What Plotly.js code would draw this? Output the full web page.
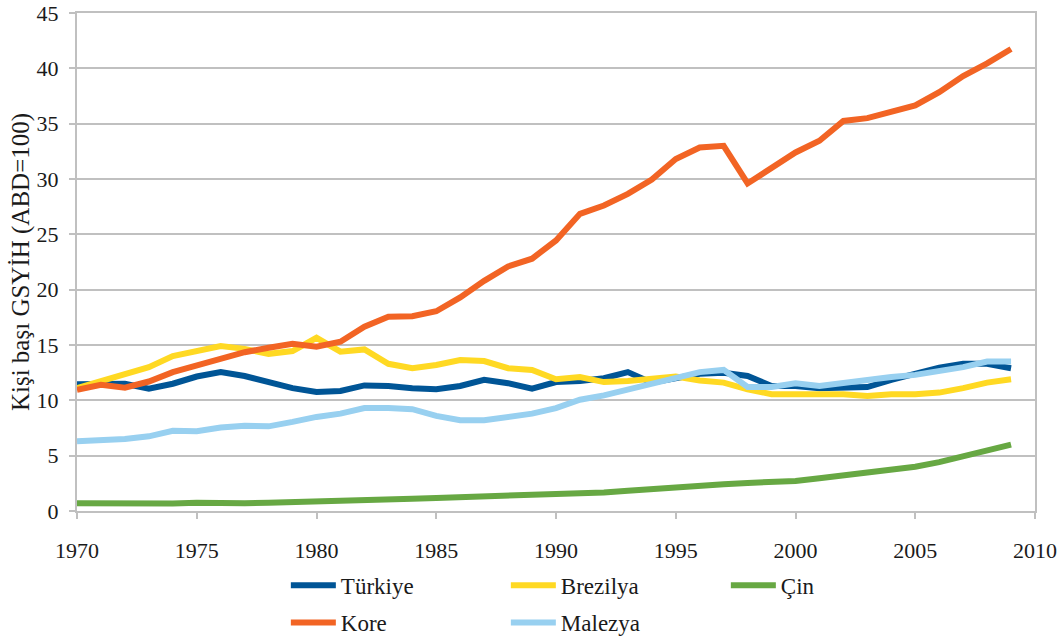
<!DOCTYPE html>
<html>
<head>
<meta charset="utf-8">
<script src="https://cdn.plot.ly/plotly-3.0.1.min.js"></script>
<style>html,body{margin:0;padding:0;background:#fff;}#chart{width:1063px;height:641px;}</style>
</head>
<body>
<div id="chart"></div>
<script>
const years = [1970,1971,1972,1973,1974,1975,1976,1977,1978,1979,1980,1981,1982,1983,1984,1985,1986,1987,1988,1989,1990,1991,1992,1993,1994,1995,1996,1997,1998,1999,2000,2001,2002,2003,2004,2005,2006,2007,2008,2009];

const turkiye = [11.45,11.5,11.5,11.05,11.5,12.15,12.55,12.2,11.6,11.1,10.75,10.85,11.35,11.3,11.1,11.0,11.3,11.85,11.55,11.05,11.65,11.75,12.0,12.55,11.6,12.05,12.4,12.5,12.2,11.3,11.3,11.1,11.1,11.2,11.85,12.45,12.95,13.3,13.3,12.9];
const brezilya = [11.1,11.7,12.3,13.0,14.0,14.5,14.9,14.65,14.2,14.45,15.65,14.4,14.6,13.3,12.9,13.2,13.65,13.55,12.9,12.75,11.9,12.1,11.65,11.75,11.9,12.15,11.8,11.6,11.0,10.55,10.55,10.55,10.55,10.4,10.55,10.55,10.7,11.1,11.6,11.9];
const cin = [0.7,0.68,0.66,0.66,0.68,0.74,0.68,0.7,0.74,0.78,0.84,0.88,0.96,1.03,1.1,1.18,1.25,1.32,1.37,1.37,1.4,1.52,1.67,1.83,2.0,2.17,2.3,2.42,2.53,2.6,2.72,2.95,3.2,3.45,3.7,4.0,4.42,4.98,5.48,6.0];
const kore = [10.95,11.4,11.15,11.7,12.55,13.15,13.75,14.35,14.75,15.1,14.85,15.3,16.65,17.55,17.6,18.05,19.3,20.8,22.1,22.8,24.45,26.85,27.6,28.65,29.95,31.8,32.85,33.0,29.6,31.05,32.4,33.45,35.25,35.5,36.05,36.65,37.85,39.3,40.45,41.75];
const malezya = [6.3,6.35,6.5,6.75,7.25,7.2,7.55,7.7,7.65,8.05,8.5,8.8,9.3,9.3,9.2,8.6,8.2,8.2,8.5,8.8,9.3,10.05,10.45,11.0,11.45,12.0,12.55,12.75,11.2,11.2,11.55,11.3,11.6,11.9,12.1,12.3,12.6,13.0,13.5,13.5];

const seriesNames = ["Türkiye","Brezilya","Çin","Kore","Malezya"];
const seriesColors = ["#005596","#ffd923","#67a843","#f26424","#98d0f0"];
const seriesData = [turkiye, brezilya, cin, kore, malezya];
const legendIds = ["legend","legend","legend","legend2","legend2"];

const yTicks = [0,5,10,15,20,25,30,35,40,45];
const xTicks = [1970,1975,1980,1985,1990,1995,2000,2005,2010];
const yTitle = "Kişi başı GSYİH (ABD=100)";

const textColor = "#1a1a1a";
const gridColor = "#c0c0c0";
const fontFamily = "'Liberation Serif', 'DejaVu Serif', serif";

const traces = seriesData.map((d, i) => ({
  type: "scatter",
  mode: "lines",
  x: years,
  y: d,
  name: seriesNames[i],
  legend: legendIds[i],
  line: {color: seriesColors[i], width: 6},
  hoverinfo: "skip"
}));

const legendBase = {
  orientation: "h",
  xanchor: "left",
  yanchor: "middle",
  entrywidth: 160,
  entrywidthmode: "pixels",
  itemwidth: 45,
  font: {family: fontFamily, size: 23, color: textColor},
  bgcolor: "rgba(0,0,0,0)",
  traceorder: "normal"
};

const layout = {
  width: 1063,
  height: 641,
  margin: {l: 77, r: 28, t: 13, b: 130, autoexpand: false},
  paper_bgcolor: "#ffffff",
  plot_bgcolor: "#ffffff",
  font: {family: fontFamily, size: 22, color: textColor},
  showlegend: true,
  legend: Object.assign({}, legendBase, {x: 0.218, y: -0.149}),
  legend2: Object.assign({}, legendBase, {x: 0.218, y: -0.224}),
  xaxis: {
    range: [1970, 2010],
    tickmode: "array",
    tickvals: xTicks,
    ticktext: xTicks.map(String),
    ticks: "outside",
    ticklen: 6,
    tickwidth: 2,
    tickcolor: gridColor,
    ticklabelstandoff: 13,
    ticklabeloverflow: "allow",
    showgrid: false,
    showline: true,
    mirror: true,
    linecolor: gridColor,
    linewidth: 2,
    zeroline: false,
    automargin: false,
    tickfont: {family: fontFamily, size: 22, color: textColor}
  },
  yaxis: {
    range: [0, 45],
    tickmode: "array",
    tickvals: yTicks,
    ticktext: yTicks.map(String),
    ticks: "outside",
    ticklen: 6,
    tickwidth: 2,
    tickcolor: gridColor,
    ticklabelstandoff: 6,
    ticklabeloverflow: "allow",
    showgrid: true,
    gridcolor: gridColor,
    gridwidth: 2,
    showline: true,
    mirror: true,
    linecolor: gridColor,
    linewidth: 2,
    zeroline: false,
    automargin: false,
    tickfont: {family: fontFamily, size: 22, color: textColor},
    title: {text: yTitle, font: {family: fontFamily, size: 25, color: textColor}, standoff: 0}
  }
};

Plotly.newPlot("chart", traces, layout, {displayModeBar: false, staticPlot: true});
</script>
</body>
</html>
